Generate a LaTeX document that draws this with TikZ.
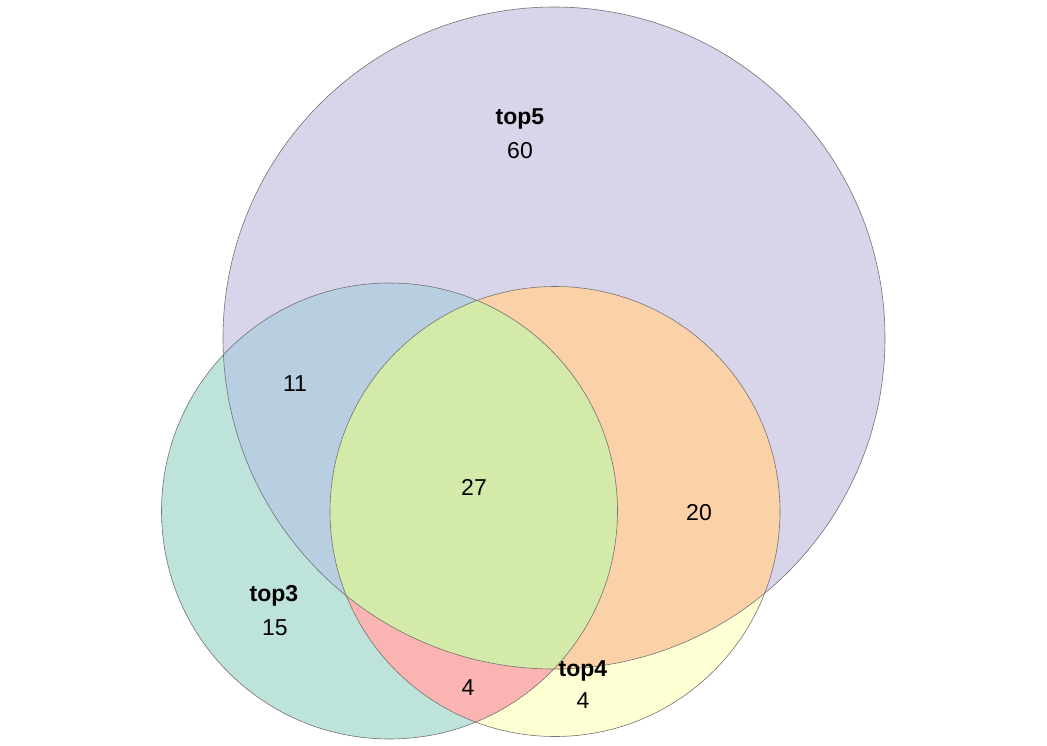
\documentclass[tikz,border=0pt]{standalone}
\usepackage{fontspec}
\setmainfont{Liberation Sans}
\usepackage{xcolor}

\definecolor{onlyfive}{HTML}{D8D4E9}
\definecolor{onlythree}{HTML}{BEE3DB}
\definecolor{onlyfour}{HTML}{FFFFD4}
\definecolor{threefive}{HTML}{B8CFE2}
\definecolor{fourfive}{HTML}{FBD1A8}
\definecolor{threefour}{HTML}{FAB4B1}
\definecolor{allthree}{HTML}{D3EAA9}

\tikzset{
    setline/.style={draw=black!55, line width=0.6pt},
    setname/.style={font=\fontsize{23}{27}\selectfont\bfseries},
    setcount/.style={font=\fontsize{23}{27}\selectfont}
}

\begin{document}
\begin{tikzpicture}[x=1pt, y=-1pt]
    \useasboundingbox (0,0) rectangle (1047,746);

    % Circle centres
    \coordinate (cfive) at (554,338);
    \coordinate (cthree) at (389.5,511);
    \coordinate (cfour) at (555,511.5);

    % Single sets
    \fill[onlyfive] (cfive) circle (331);
    \fill[onlythree] (cthree) circle (228);
    \fill[onlyfour] (cfour) circle (225);

    % top3 and top5
    \begin{scope}
        \clip (cthree) circle (228);
        \fill[threefive] (cfive) circle (331);
    \end{scope}

    % top4 and top5
    \begin{scope}
        \clip (cfour) circle (225);
        \fill[fourfive] (cfive) circle (331);
    \end{scope}

    % top3 and top4
    \begin{scope}
        \clip (cthree) circle (228);
        \fill[threefour] (cfour) circle (225);
    \end{scope}

    % All three
    \begin{scope}
        \clip (cthree) circle (228);
        \clip (cfour) circle (225);
        \fill[allthree] (cfive) circle (331);
    \end{scope}

    % Outlines
    \draw[setline] (cfive) circle (331);
    \draw[setline] (cthree) circle (228);
    \draw[setline] (cfour) circle (225);

    % Labels
    \node[setname] (namefive) at (520,119) {top5};
    \node[setcount] (numfive) at (520,151) {60};
    \node[setname] (namethree) at (274,596) {top3};
    \node[setcount] (numthree) at (275,628) {15};
    \node[setname] (namefour) at (583,671) {top4};
    \node[setcount] (numfour) at (583,701) {4};
    \node[setcount] (numthreefive) at (295,384) {11};
    \node[setcount] (numall) at (474,487) {27};
    \node[setcount] (numfourfive) at (699,513) {20};
    \node[setcount] (numthreefour) at (468,688) {4};
\end{tikzpicture}
\end{document}
